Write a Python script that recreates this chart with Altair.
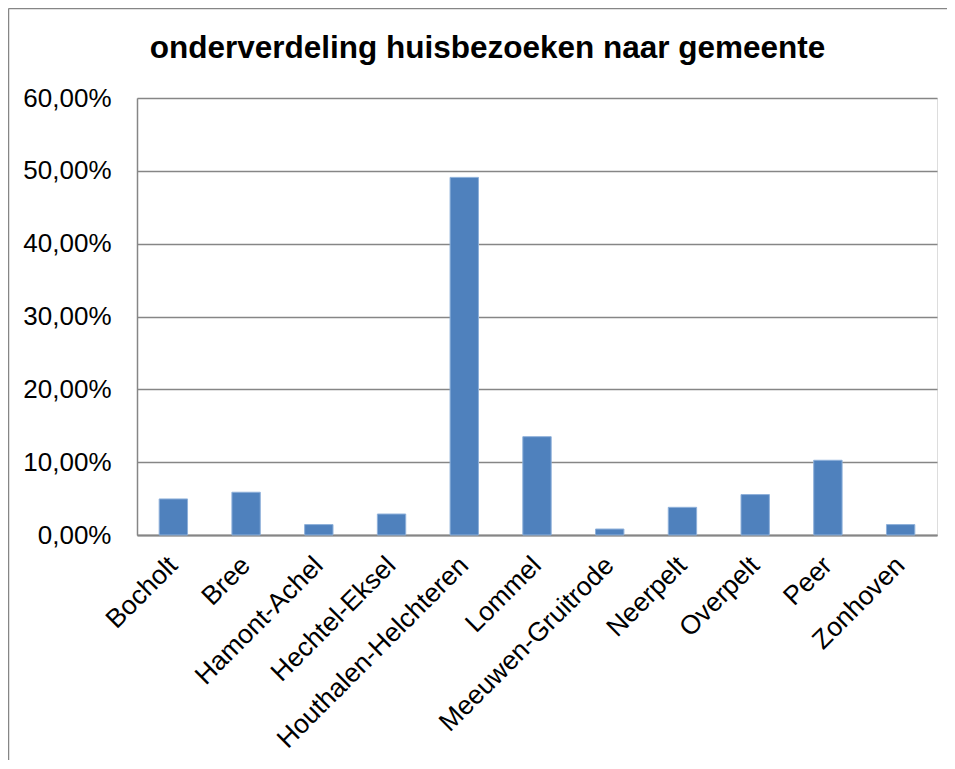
import altair as alt
import pandas as pd

gemeenten = ["Bocholt", "Bree", "Hamont-Achel", "Hechtel-Eksel", "Houthalen-Helchteren",
             "Lommel", "Meeuwen-Gruitrode", "Neerpelt", "Overpelt", "Peer", "Zonhoven"]
aandeel = [0.0495, 0.0587, 0.0143, 0.0288, 0.4910, 0.1350, 0.0082, 0.0380, 0.0555, 0.1026, 0.0143]
y_ticks = [0.0, 0.1, 0.2, 0.3, 0.4, 0.5, 0.6]
titel = "onderverdeling huisbezoeken naar gemeente"

df = pd.DataFrame({"gemeente": gemeenten, "aandeel": aandeel})

FONT = "Liberation Sans"
GRAY = "#868686"

bars = alt.Chart(df).mark_bar(color="#4F81BD", stroke="#8EB0DA", strokeWidth=1).encode(
    x=alt.X("gemeente:N", sort=gemeenten,
            scale=alt.Scale(paddingInner=0.61, paddingOuter=0.305),
            axis=alt.Axis(title=None, labelAngle=-45, labelFontSize=26.5, labelFont=FONT,
                          labelColor="#000000", ticks=False, labelPadding=26,
                          labelBaseline="middle", labelAlign="right",
                          domainColor=GRAY, domainWidth=2, labelLimit=400)),
    y=alt.Y("aandeel:Q", scale=alt.Scale(domain=[0, 0.6]),
            axis=alt.Axis(title=None, values=y_ticks, ticks=False, labelPadding=26,
                          labelFontSize=26, labelFont=FONT, labelColor="#000000",
                          labelExpr="replace(format(datum.value, '.2%'), '.', ',')",
                          grid=True, gridColor=GRAY, gridWidth=1.3,
                          domainColor=GRAY, domainWidth=1.5)),
)

one = alt.Data(values=[{"t": titel}])

title_mark = alt.Chart(one).mark_text(font=FONT, fontSize=31.5, fontWeight="bold", color="#000000",
                                      align="center", baseline="alphabetic").encode(
    text="t:N", x=alt.value(350.5), y=alt.value(-40)
)

frame = alt.Chart(one).mark_rule(color=GRAY, strokeWidth=1.5).encode(
    x=alt.value(-128.5), y=alt.value(-89.5), y2=alt.value(700)
)
frame_top = alt.Chart(one).mark_rule(color=GRAY, strokeWidth=1.5).encode(
    x=alt.value(-128.5), x2=alt.value(820), y=alt.value(-89.5)
)

chart = alt.layer(bars, title_mark, frame, frame_top).properties(
    width=800, height=437,
    autosize=alt.AutoSizeParams(type="none"),
    padding={"left": 129, "top": 90, "right": 10, "bottom": 225},
).configure_view(stroke=None).configure(background="white")

chart.save("out.html", embed_options={"renderer": "svg", "actions": False})
